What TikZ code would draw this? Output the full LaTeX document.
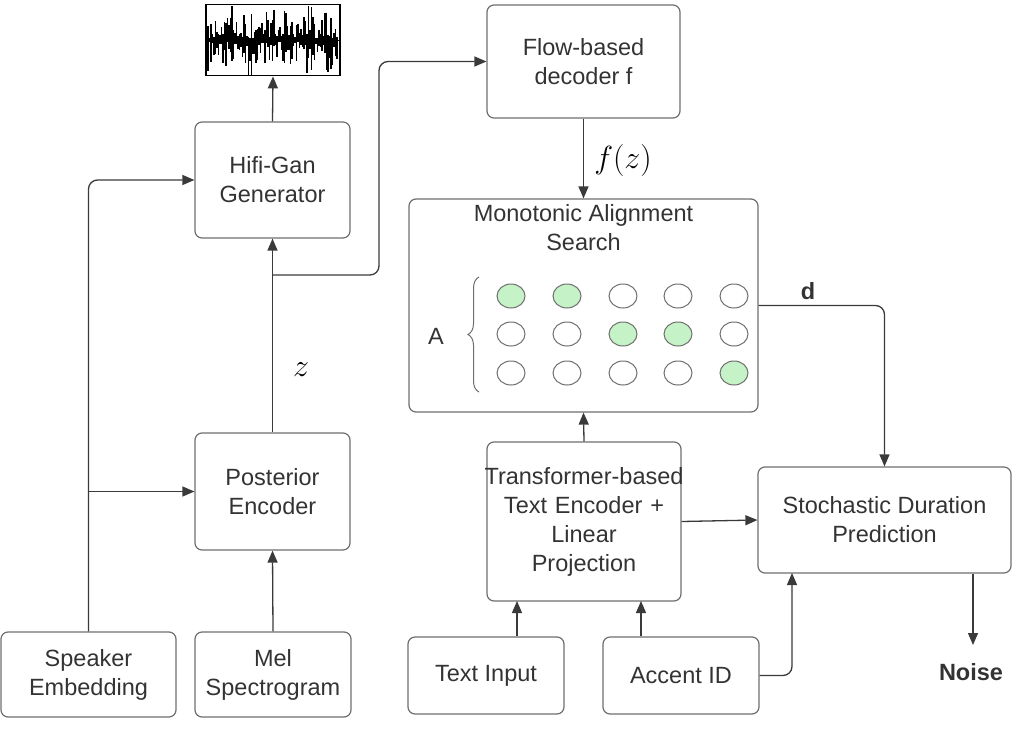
\RequirePackage{fix-cm}
\documentclass[tikz,border=0pt]{standalone}
\usepackage{fontspec}
\setmainfont{Liberation Sans}
\usetikzlibrary{arrows.meta,decorations.pathreplacing,shapes.geometric}
\definecolor{boxgray}{HTML}{6E6E6E}
\definecolor{linegray}{HTML}{3A3A3A}
\definecolor{txtgray}{HTML}{333333}
\definecolor{dotgreen}{HTML}{C5F2C7}
\begin{document}
\begin{tikzpicture}[x=1pt,y=-1pt,
  box/.style={draw=boxgray, line width=1.2pt, rounded corners=7pt, align=center, inner sep=0pt,
    font=\fontsize{23.5}{29}\selectfont, text=txtgray},
  conn/.style={draw=linegray, line width=1.3pt, rounded corners=9pt, -{Triangle[length=12pt,width=10pt]}},
  dot/.style={draw=boxgray, line width=1pt, ellipse, minimum width=28pt, minimum height=24pt, inner sep=0pt},
  on/.style={dot, fill=dotgreen},
  off/.style={dot, fill=white},
  lbl/.style={font=\fontsize{23.5}{29}\selectfont\bfseries, text=txtgray},
  mathlbl/.style={font=\fontsize{32}{36}\selectfont, text=black}
]
\useasboundingbox (0,0) rectangle (1015,750);

% waveform
\node[draw=black, line width=1.8pt, minimum width=134pt, minimum height=71pt, inner sep=0pt] (wave) at (273,40) {};
\begin{scope}
\clip (207,6) rectangle (339,74);
\pgfmathsetseed{5}
\foreach \x in {208,209.5,...,338} {
  \pgfmathsetmacro\env{0.35+0.65*abs(sin(\x*9))}
  \pgfmathsetmacro\up{2+36*\env*rnd^1.5}
  \pgfmathsetmacro\dn{2+34*\env*rnd^1.5}
  \draw[line width=1.5pt, black] (\x,40-\up) -- (\x,40+\dn);
}
\draw[line width=1pt] (207,40) -- (339,40);
\end{scope}

% boxes
\node[box, minimum width=155pt, minimum height=116pt] (hifi) at (272.5,180) {Hifi-Gan\\Generator};
\node[box, minimum width=155pt, minimum height=117pt] (post) at (272.5,491.5) {Posterior\\Encoder};
\node[box, minimum width=175pt, minimum height=85pt] (spk) at (88.5,674.5) {Speaker\\Embedding};
\node[box, minimum width=156pt, minimum height=85pt] (mel) at (273,674.5) {Mel\\Spectrogram};
\node[box, minimum width=193pt, minimum height=113pt] (flow) at (583.5,61.5) {Flow-based\\decoder f};
\node[box, minimum width=349pt, minimum height=213pt] (mas) at (583.5,305.5) {};
\node[font=\fontsize{23.5}{29}\selectfont, text=txtgray, align=center] (mastitle) at (583.5,228) {Monotonic Alignment\\Search};
\node[box, text width=194pt, minimum height=159pt] (trans) at (584,521.5) {\makebox[194pt][c]{Transformer-based}\\Text Encoder +\\Linear\\Projection};
\node[box, minimum width=253pt, minimum height=106pt] (sto) at (884.5,520) {Stochastic Duration\\Prediction};
\node[box, minimum width=156pt, minimum height=77pt] (txt) at (486,675.5) {Text Input};
\node[box, minimum width=156pt, minimum height=77pt] (acc) at (681,675.5) {Accent ID};

% alignment matrix
\node[font=\fontsize{23.5}{29}\selectfont, text=txtgray] (A) at (436,336) {A};
\coordinate (brb) at (479,392);
\coordinate (brt) at (479,277);
\draw[boxgray, line width=1pt, decorate, decoration={brace, amplitude=11pt}] (brb) -- (brt);
\node[on]  (d11) at (511,296) {};
\node[on]  (d12) at (567,296) {};
\node[off] (d13) at (623,296) {};
\node[off] (d14) at (678,296) {};
\node[off] (d15) at (734,296) {};
\node[off] (d21) at (511,334) {};
\node[off] (d22) at (567,334) {};
\node[on]  (d23) at (623,334) {};
\node[on]  (d24) at (678,334) {};
\node[off] (d25) at (734,334) {};
\node[off] (d31) at (511,373) {};
\node[off] (d32) at (567,373) {};
\node[off] (d33) at (623,373) {};
\node[off] (d34) at (678,373) {};
\node[on]  (d35) at (734,373) {};

% labels
\node[mathlbl] (fz) at (623,160) {$f(z)$};
\node[mathlbl] (zl) at (301,370) {$z$};
\node[lbl] (dl) at (808,291) {d};
\node[lbl] (noise) at (971,672) {Noise};

% connectors
\draw[conn] (hifi.north) -- (wave.south);
\draw[conn] (post.north) -- (hifi.south);
\coordinate (b2) at (272.5,275);
\coordinate (b2a) at (379,275);
\coordinate (b2b) at (379,61.5);
\draw[conn] (b2) -- (b2a) -- (b2b) -- (flow.west);
\draw[conn] (spk.north) |- (hifi.west);
\coordinate (b1) at (88.5,491.5);
\draw[conn] (b1) -- (post.west);
\draw[conn] (mel.north) -- (post.south);
\draw[conn] (flow.south) -- (mas.north);
\draw[conn] (mas.east) -| (sto.north);
\draw[conn] (trans.north) -- (mas.south);
\draw[conn] (trans.east) -- (sto.west);
\coordinate (ti) at (517,601);
\coordinate (ai) at (641,601);
\draw[conn] (ti |- txt.north) -- (ti);
\draw[conn] (ai |- acc.north) -- (ai);
\coordinate (sb) at (792,573);
\draw[conn] (acc.east) -| (sb);
\coordinate (nz) at (973,645);
\draw[conn] (nz |- sto.south) -- (nz);
\end{tikzpicture}
\end{document}
